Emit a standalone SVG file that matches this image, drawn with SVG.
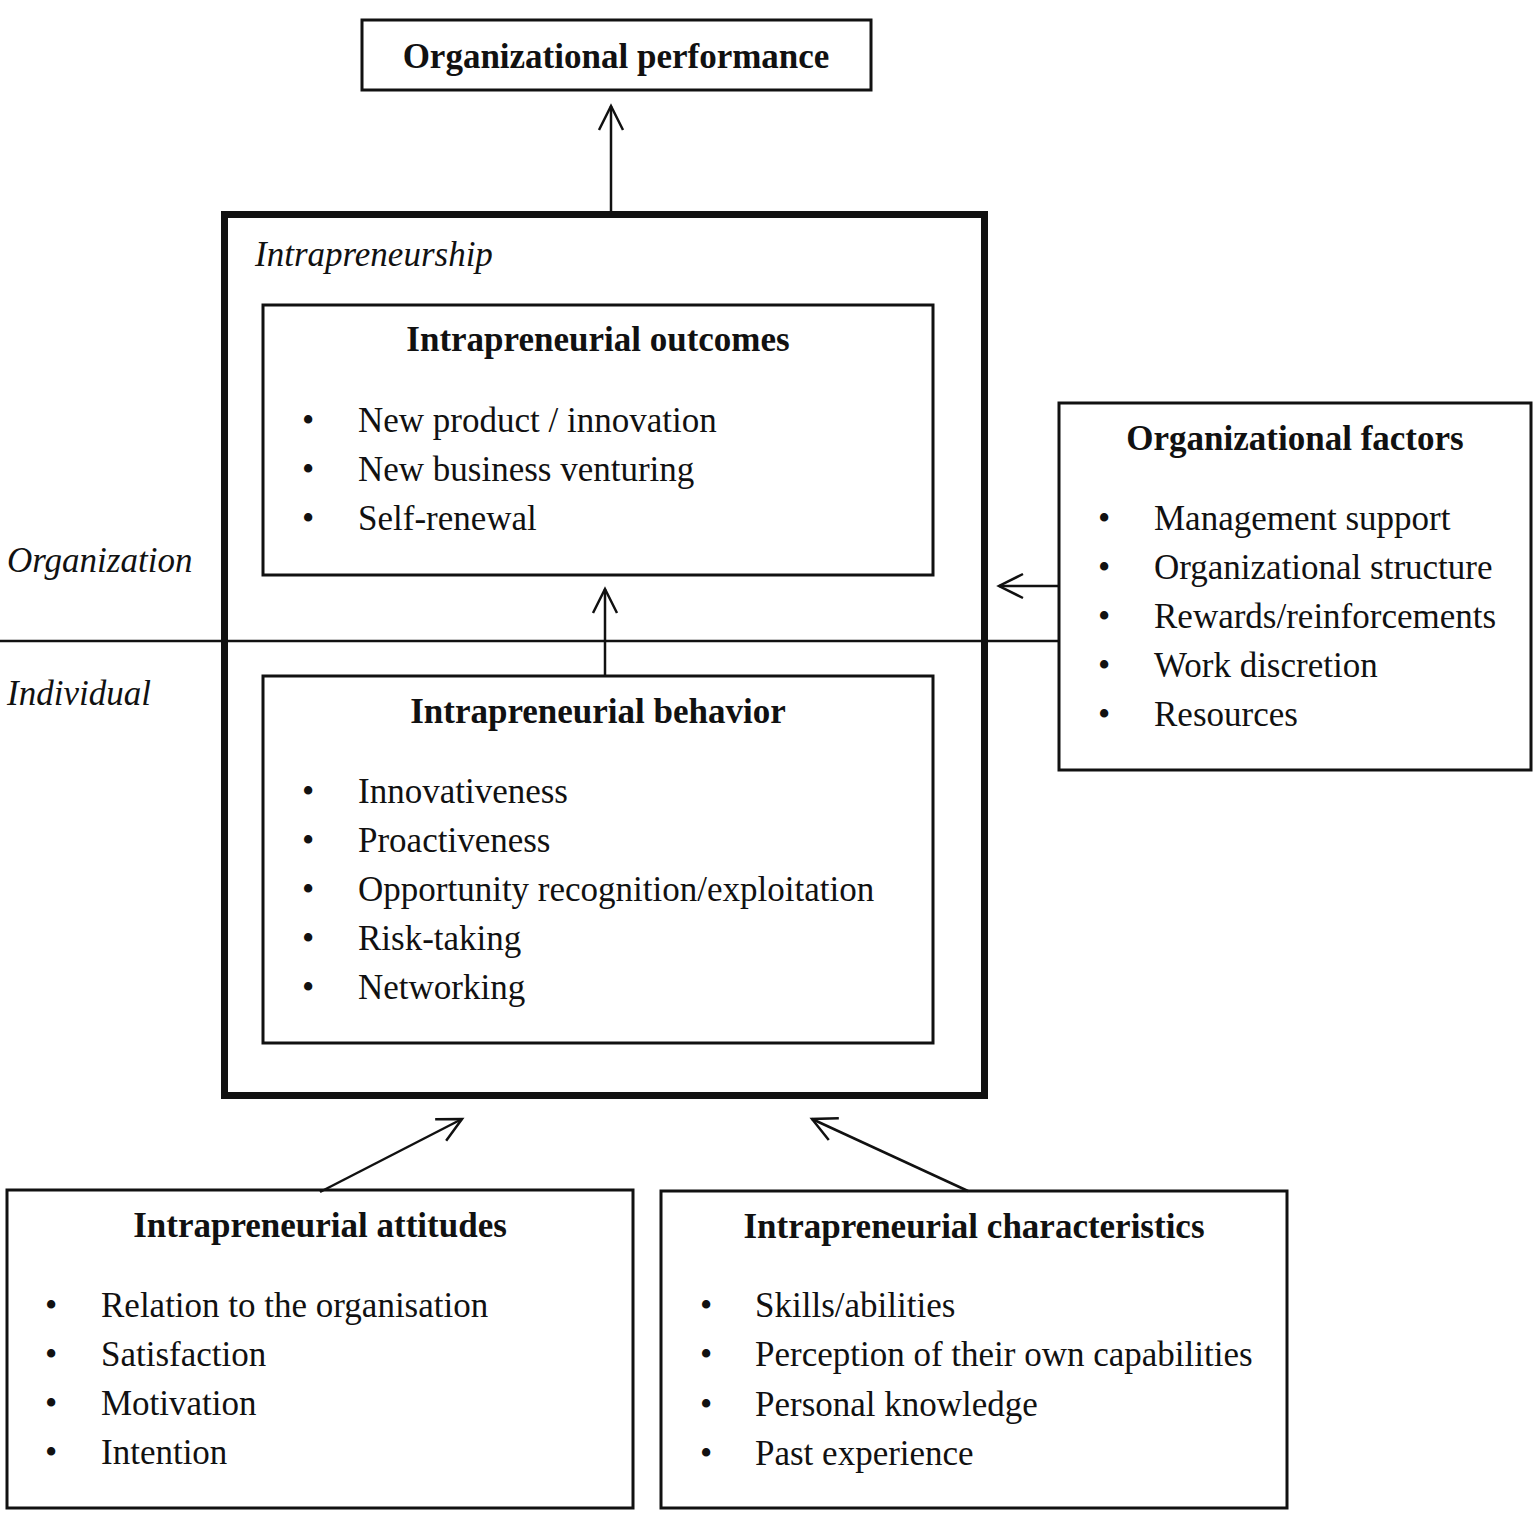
<svg xmlns="http://www.w3.org/2000/svg" width="1540" height="1522" viewBox="0 0 1540 1522">
<defs>
<style>
.box{fill:none;stroke:#111;stroke-width:3}
.t{font-family:"Liberation Serif","Times New Roman",serif;font-size:35px;fill:#111}
.b{font-weight:bold;text-anchor:middle}
.i{font-style:italic}
.ln{stroke:#111;stroke-width:2.5;fill:none}
</style>
<marker id="ah" viewBox="0 0 30 30" refX="26" refY="15" markerWidth="30" markerHeight="30" markerUnits="userSpaceOnUse" orient="auto">
<path d="M2,3 L26,15 L2,27" fill="none" stroke="#111" stroke-width="2.5"/>
</marker>
</defs>
<rect width="1540" height="1522" fill="#fff"/>
<g id="connectors">
<line class="ln" x1="0" y1="641" x2="1059" y2="641"/>
<line class="ln" x1="611" y1="214" x2="611" y2="106" marker-end="url(#ah)"/>
<line class="ln" x1="605" y1="676" x2="605" y2="589" marker-end="url(#ah)"/>
<line class="ln" x1="1059" y1="586" x2="999" y2="586" marker-end="url(#ah)"/>
<line class="ln" x1="320" y1="1192" x2="462" y2="1119" marker-end="url(#ah)"/>
<line class="ln" x1="968" y1="1191" x2="812" y2="1119" marker-end="url(#ah)"/>
</g>
<g id="labels">
<text class="t i" x="7" y="572">Organization</text>
<text class="t i" x="7" y="705">Individual</text>
</g>
<g id="performance">
<rect class="box" x="362" y="20" width="509" height="70"/>
<text class="t b" x="616" y="68">Organizational performance</text>
</g>
<g id="intrapreneurship">
<rect x="224.5" y="214.5" width="760" height="881" fill="none" stroke="#111" stroke-width="7"/>
<text class="t i" x="255" y="266">Intrapreneurship</text>
</g>
<g id="outcomes">
<rect class="box" x="263" y="305" width="670" height="270"/>
<text class="t b" x="598" y="351">Intrapreneurial outcomes</text>
<text class="t" x="302" y="432">•</text><text class="t" x="358" y="432">New product / innovation</text>
<text class="t" x="302" y="481">•</text><text class="t" x="358" y="481">New business venturing</text>
<text class="t" x="302" y="530">•</text><text class="t" x="358" y="530">Self-renewal</text>
</g>
<g id="behavior">
<rect class="box" x="263" y="676" width="670" height="367"/>
<text class="t b" x="598" y="723">Intrapreneurial behavior</text>
<text class="t" x="302" y="803">•</text><text class="t" x="358" y="803">Innovativeness</text>
<text class="t" x="302" y="852">•</text><text class="t" x="358" y="852">Proactiveness</text>
<text class="t" x="302" y="901">•</text><text class="t" x="358" y="901">Opportunity recognition/exploitation</text>
<text class="t" x="302" y="950">•</text><text class="t" x="358" y="950">Risk-taking</text>
<text class="t" x="302" y="999">•</text><text class="t" x="358" y="999">Networking</text>
</g>
<g id="factors">
<rect class="box" x="1059" y="403" width="472" height="367"/>
<text class="t b" x="1295" y="450">Organizational factors</text>
<text class="t" x="1098" y="530">•</text><text class="t" x="1154" y="530">Management support</text>
<text class="t" x="1098" y="579">•</text><text class="t" x="1154" y="579">Organizational structure</text>
<text class="t" x="1098" y="628">•</text><text class="t" x="1154" y="628">Rewards/reinforcements</text>
<text class="t" x="1098" y="677">•</text><text class="t" x="1154" y="677">Work discretion</text>
<text class="t" x="1098" y="726">•</text><text class="t" x="1154" y="726">Resources</text>
</g>
<g id="attitudes">
<rect class="box" x="7" y="1190" width="626" height="318"/>
<text class="t b" x="320" y="1237">Intrapreneurial attitudes</text>
<text class="t" x="45" y="1317">•</text><text class="t" x="101" y="1317">Relation to the organisation</text>
<text class="t" x="45" y="1366">•</text><text class="t" x="101" y="1366">Satisfaction</text>
<text class="t" x="45" y="1415">•</text><text class="t" x="101" y="1415">Motivation</text>
<text class="t" x="45" y="1464">•</text><text class="t" x="101" y="1464">Intention</text>
</g>
<g id="characteristics">
<rect class="box" x="661" y="1191" width="626" height="317"/>
<text class="t b" x="974" y="1238">Intrapreneurial characteristics</text>
<text class="t" x="700" y="1317">•</text><text class="t" x="755" y="1317">Skills/abilities</text>
<text class="t" x="700" y="1366">•</text><text class="t" x="755" y="1366">Perception of their own capabilities</text>
<text class="t" x="700" y="1416">•</text><text class="t" x="755" y="1416">Personal knowledge</text>
<text class="t" x="700" y="1465">•</text><text class="t" x="755" y="1465">Past experience</text>
</g>
</svg>
